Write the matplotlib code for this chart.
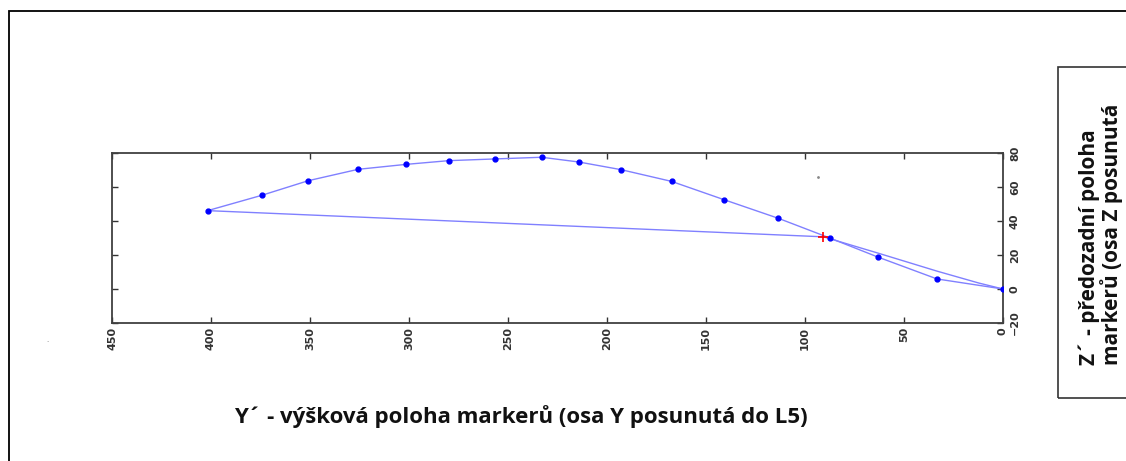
import matplotlib
matplotlib.use('Agg')
import matplotlib.pyplot as plt
from matplotlib.patches import Rectangle

# marker positions (Y' horizontal, Z' vertical)
marker_y = [401.7, 374.4, 350.9, 325.7, 301.6, 279.9, 256.7, 233.0, 214.2,
            192.9, 167.4, 140.8, 113.5, 87.5, 63.2, 33.3, 0.0]
marker_z = [46.1, 55.1, 63.7, 70.4, 73.3, 75.5, 76.5, 77.5, 74.7,
            70.2, 63.3, 52.5, 41.6, 30.0, 18.8, 5.9, 0.0]

# closing line from the first marker back to the origin
chord_y = [401.7, 90.7, 62.8, 33.3, 12.2, 0.0]
chord_z = [46.1, 30.7, 21.0, 10.5, 3.5, 0.0]

cross_y, cross_z = [90.7], [30.7]
stray_y, stray_z = [93.4], [65.9]

xticks = list(range(0, 451, 50))
yticks = list(range(-20, 81, 20))

W, H = 1126, 461
fig = plt.figure(figsize=(W / 100, H / 100), dpi=100)
fig.patch.set_facecolor('white')

# outer frame (cut by the image edge on the right and bottom)
fig.patches.append(Rectangle((9 / W, -0.1), 1.2, 1 - 11 / H + 0.1,
                             transform=fig.transFigure, fill=False,
                             edgecolor='black', linewidth=1.3))
# box round the vertical caption
fig.patches.append(Rectangle((1058 / W, 1 - 398 / H), 0.2, (398 - 67) / H,
                             transform=fig.transFigure, fill=False,
                             edgecolor='#333333', linewidth=1.2))

ax = fig.add_axes([112 / W, 1 - 323 / H, (1003 - 112) / W, (323 - 153) / H])
ax.plot(marker_y, marker_z, color='#8080ff', linewidth=1.0, marker='o',
        markersize=3.5, markerfacecolor='#0000ff', markeredgecolor='#0000ff',
        zorder=3)
ax.plot(chord_y, chord_z, color='#8080ff', linewidth=1.0, zorder=2)
ax.plot(cross_y, cross_z, '+', color='red', markersize=7, markeredgewidth=1.2,
        zorder=4)
ax.plot(stray_y, stray_z, '.', color='#888888', markersize=2)

ax.set_xlim(450, 0)
ax.set_ylim(-20, 80)
ax.set_xticks(xticks)
ax.set_yticks(yticks)
ax.tick_params(direction='in', length=4, width=1, color='#333333',
               top=True, bottom=True, left=True, right=True,
               labelleft=False, labelright=True, labelsize=8,
               labelcolor='#333333')
ax.tick_params(axis='x', pad=3, labelrotation=90)
ax.tick_params(axis='y', pad=5, labelrotation=90)
for lab in ax.get_yticklabels() + ax.get_xticklabels():
    lab.set_fontweight('bold')
for lab in ax.get_yticklabels():
    lab.set_verticalalignment('center')
for s in ax.spines.values():
    s.set_color('#404040')
    s.set_linewidth(1.3)

fig.text(47 / W, 1 - 340 / H, '.', fontsize=5, color='#777777',
         ha='center', va='center')

fig.text(521 / W, 1 - 417 / H,
         'Y\u00b4 - výšková poloha markerů (osa Y posunutá do L5)',
         fontsize=16, fontweight='bold', family='Open Sans',
         ha='center', va='center', color='#111111')
fig.text(1089 / W, 1 - 247 / H, 'Z\u00b4 - předozadní poloha',
         fontsize=15, fontweight='bold', family='Open Sans', rotation=90,
         ha='center', va='center', color='#111111')
fig.text(1112 / W, 1 - 234 / H, 'markerů (osa Z posunutá',
         fontsize=15, fontweight='bold', family='Open Sans', rotation=90,
         ha='center', va='center', color='#111111')

fig.savefig('out.png', dpi=100, facecolor='white')
